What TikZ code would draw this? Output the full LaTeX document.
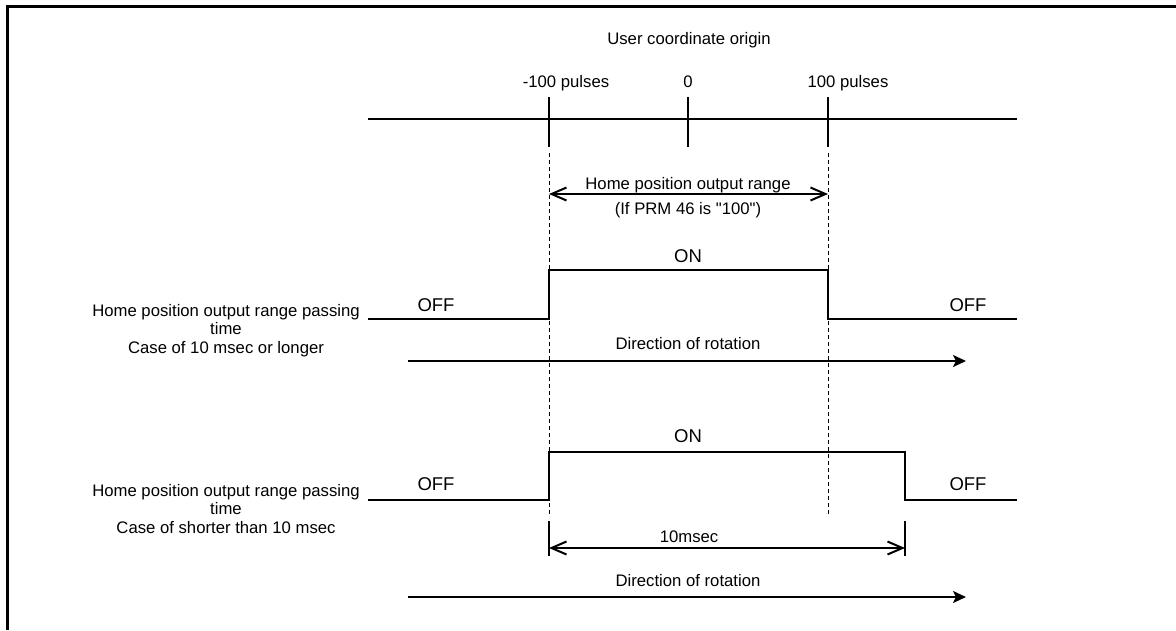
\documentclass[tikz,border=0pt]{standalone}
\usepackage{fontspec}
\setmainfont{Liberation Sans}
\newfontfamily\rawquote{Liberation Sans}
\usetikzlibrary{arrows.meta}

\begin{document}
\begin{tikzpicture}[x=1pt,y=-1pt,
		txt/.style={font=\fontsize{16.7}{18.5}\selectfont,inner sep=0pt,anchor=base,align=center},
		lvl/.style={font=\fontsize{18.5}{20}\selectfont,inner sep=0pt,anchor=base},
		sig/.style={line width=2pt},
		axis/.style={line width=1.5pt},
		guide/.style={line width=1pt,dash pattern=on 4pt off 3pt},
		span/.style={line width=2pt,{Straight Barb[length=15pt,width=13pt]}-{Straight Barb[length=15pt,width=13pt]}},
		dirarrow/.style={line width=2pt,-{Stealth[length=13pt,width=12pt,inset=3pt]}}]
			\useasboundingbox (0,0) rectangle (1176,630);
			\draw[line width=3.5pt] (7.5,630) -- (7.5,6.5) -- (1176,6.5);
			% axis
			\coordinate (axL) at (368,119);
			\coordinate (axR) at (1017,119);
			\draw[axis] (axL) -- (axR);
			\coordinate (tkA) at (549,97); \coordinate (tkAb) at (549,147);
			\coordinate (tkO) at (688,97); \coordinate (tkOb) at (688,147);
			\coordinate (tkB) at (828,97); \coordinate (tkBb) at (828,147);
			\draw[axis] (tkA) -- (tkAb);
			\draw[axis] (tkO) -- (tkOb);
			\draw[axis] (tkB) -- (tkBb);
			\node[txt] (origin) at (689,44) {User coordinate origin};
			\node[txt] (minus) at (566,87) {-100 pulses};
			\node[txt] (zero) at (688,87) {0};
			\node[txt] (plus) at (848,87) {100 pulses};
			% guide lines
			\coordinate (gA) at (549,153); \coordinate (gAb) at (549,516);
			\coordinate (gB) at (828,153); \coordinate (gBb) at (828,516);
			\draw[guide] (gA) -- (gAb);
			\draw[guide] (gB) -- (gBb);
			% output range
			\coordinate (rA) at (549,194); \coordinate (rB) at (828,194);
			\draw[span] (rA) -- (rB);
			\node[txt] (range) at (688,189) {Home position output range};
			\node[txt] (prm) at (688,214) {(If PRM 46 is {\rawquote"}100{\rawquote"})};
			% first case
			\coordinate (p1a) at (368,319); \coordinate (p1b) at (549,319);
			\coordinate (p1c) at (549,270); \coordinate (p1d) at (828,270);
			\coordinate (p1e) at (828,319); \coordinate (p1f) at (1017,319);
			\draw[sig] (p1a) -- (p1b) -- (p1c) -- (p1d) -- (p1e) -- (p1f);
			\node[lvl] (on1) at (688,262) {ON};
			\node[lvl] (offL1) at (436,311) {OFF};
			\node[lvl] (offR1) at (968,311) {OFF};
			\node[txt] (case1) at (226,353) {Home position output range passing\\time\\Case of 10 msec or longer};
			\coordinate (d1a) at (408,361); \coordinate (d1b) at (966,361);
			\draw[dirarrow] (d1a) -- (d1b);
			\node[txt] (dir1) at (688,349) {Direction of rotation};
			% second case
			\coordinate (p2a) at (368,500); \coordinate (p2b) at (549,500);
			\coordinate (p2c) at (549,452); \coordinate (p2d) at (905,452);
			\coordinate (p2e) at (905,500); \coordinate (p2f) at (1017,500);
			\draw[sig] (p2a) -- (p2b) -- (p2c) -- (p2d) -- (p2e) -- (p2f);
			\node[lvl] (on2) at (688,442) {ON};
			\node[lvl] (offL2) at (436,490) {OFF};
			\node[lvl] (offR2) at (968,490) {OFF};
			\node[txt] (case2) at (226,533) {Home position output range passing\\time\\Case of shorter than 10 msec};
			\coordinate (tA) at (549,521); \coordinate (tAb) at (549,556);
			\coordinate (tB) at (905,521); \coordinate (tBb) at (905,556);
			\draw[axis] (tA) -- (tAb);
			\draw[axis] (tB) -- (tBb);
			\coordinate (mA) at (549,548); \coordinate (mB) at (905,548);
			\draw[span] (mA) -- (mB);
			\node[txt] (tenms) at (689,542) {10msec};
			\coordinate (d2a) at (408,597); \coordinate (d2b) at (966,597);
			\draw[dirarrow] (d2a) -- (d2b);
			\node[txt] (dir2) at (688,586) {Direction of rotation};
		\end{tikzpicture}
\end{document}
